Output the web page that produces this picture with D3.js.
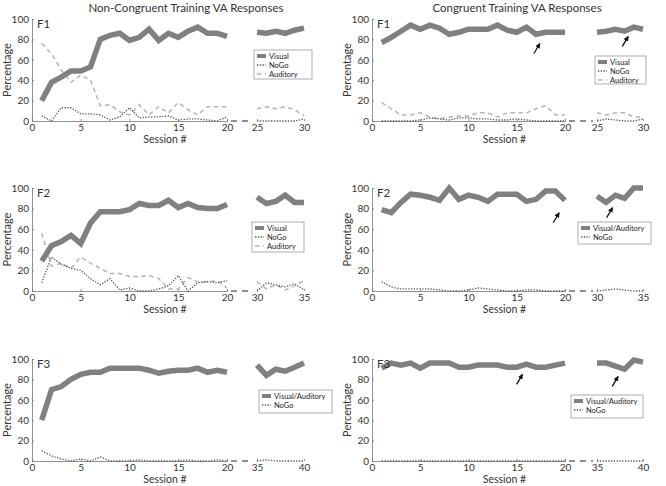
<!DOCTYPE html>
<html><head><meta charset="utf-8">
<script src="https://cdn.jsdelivr.net/npm/d3@7"></script>
<style>
html,body{margin:0;padding:0;background:#fff;}
svg{display:block;font-family:Lato,"Open Sans",sans-serif;}
</style></head>
<body><svg id="c" width="666" height="486"></svg>
<script>
// ---------- DATA ----------
const columnTitles = ["Non-Congruent Training VA Responses", "Congruent Training VA Responses"];
const panelLabels = ["F1", "F2", "F3"];
const yTicks = [0, 20, 40, 60, 80, 100];
const xTicksA = [0, 5, 10, 15, 20];
const sessionsA = [1,2,3,4,5,6,7,8,9,10,11,12,13,14,15,16,17,18,19,20];
const sessionsF1B = [25,26,27,28,29,30];
const sessionsF2B = [30,31,32,33,34,35];
const sessionsF3B = [35,36,37,38,39,40];
const domainF1B = [25, 30];
const domainF2B = [30, 35];
const domainF3B = [35, 40];

// F1 non-congruent
const ncF1Visual  = [20,38,43,49,49,53,80,84,86,79,82,90,79,86,82,88,92,86,86,83];
const ncF1VisualB = [87,86,88,86,89,91];
const ncF1NoGo    = [5,0,13,13,7,7,6,1,4,13,3,4,4,5,1,2,2,1,0,4];
const ncF1NoGoB   = [0,0,0,0,0,2];
const ncF1Aud     = [76,66,50,38,45,40,15,16,9,6,16,6,14,8,18,11,6,14,14,14];
const ncF1AudB    = [12,14,12,14,11,5];
// F1 congruent
const cF1Visual  = [77,82,88,94,90,94,91,85,87,90,90,90,94,89,87,92,85,87,87,87];
const cF1VisualB = [87,88,90,88,92,90];
const cF1NoGo    = [0,0,0,0,1,3,2,1,3,3,2,2,1,1,2,1,0,0,0,0];
const cF1NoGoB   = [0,2,1,0,0,2];
const cF1Aud     = [18,12,6,6,8,4,2,4,5,5,8,8,4,8,8,8,12,15,6,6];
const cF1AudB    = [8,6,8,8,4,4];
// F2 non-congruent
const ncF2Visual  = [29,44,48,54,46,66,77,77,77,79,85,83,83,88,81,85,81,80,80,84];
const ncF2VisualB = [91,85,87,93,86,86];
const ncF2NoGo    = [8,33,26,22,20,12,6,12,1,3,0,0,2,5,15,0,8,9,8,10];
const ncF2NoGoB   = [0,8,6,4,7,1];
const ncF2Aud     = [56,24,27,22,33,27,22,17,17,14,14,15,12,2,2,13,9,9,10,3];
const ncF2AudB    = [9,2,6,1,5,10];
// F2 congruent
const cF2Visual  = [79,76,86,94,93,91,88,100,89,93,91,87,94,94,94,87,89,97,97,88];
const cF2VisualB = [92,86,93,90,100,100];
const cF2NoGo    = [9,4,2,2,2,2,1,0,0,1,3,2,1,0,0,1,1,0,0,0];
const cF2NoGoB   = [0,1,2,1,0,0];
// F3 non-congruent
const ncF3Visual  = [40,70,73,80,85,87,87,91,91,91,91,89,86,88,89,89,91,87,89,87];
const ncF3VisualB = [94,84,90,88,92,96];
const ncF3NoGo    = [10,5,2,0,2,0,4,0,0,0,1,0,0,0,0,1,0,0,1,0];
const ncF3NoGoB   = [0,1,0,0,0,0];
// F3 congruent
const cF3Visual  = [91,96,94,96,91,96,96,96,92,92,94,94,94,92,92,95,92,92,94,96];
const cF3VisualB = [96,96,93,90,99,97];
const cF3NoGo    = [0,0,0,0,0,0,0,0,0,0,0,0,0,0,0,0,0,0,0,0];
const cF3NoGoB   = [0,0,0,0,0,0];

// arrows: [session, value] the arrow points to (congruent panels)
const arrowsF1 = [[17.4, 76], [28.4, 83]];
const arrowsF2 = [[19.4, 76], [31.7, 81]];
const arrowsF3 = [[15.6, 85], [37.3, 83]];

// ---------- STYLE / LAYOUT ----------
const cols = [
  {x0: 32, x20: 227, bx0: 257, bx1: 304, title: 186},
  {x0: 372, x20: 565, bx0: 597, bx1: 643, title: 517}
];
const rows = [
  {y0: 121, y100: 19},
  {y0: 291, y100: 188},
  {y0: 461, y100: 359}
];
const styles = {
  visual:  {stroke: "#808080", width: 5.5, dash: null},
  nogo:    {stroke: "#555",    width: 1.3, dash: "1.3,1.5"},
  aud:     {stroke: "#b5b5b5", width: 1.5, dash: "4.5,3.5"}
};

const panels = [
  {r:0, c:0, lab:panelLabels[0], bSess:sessionsF1B, bDom:domainF1B,
   series:[["visual",ncF1Visual,ncF1VisualB],["nogo",ncF1NoGo,ncF1NoGoB],["aud",ncF1Aud,ncF1AudB]],
   legend:{x:254,y:50,w:58,h:29,items:[["visual","Visual"],["nogo","NoGo"],["aud","Auditory"]]}, arrows:[]},
  {r:0, c:1, lab:panelLabels[0], bSess:sessionsF1B, bDom:domainF1B,
   series:[["visual",cF1Visual,cF1VisualB],["nogo",cF1NoGo,cF1NoGoB],["aud",cF1Aud,cF1AudB]],
   legend:{x:595,y:56,w:51,h:28,items:[["visual","Visual"],["nogo","NoGo"],["aud","Auditory"]]}, arrows:arrowsF1},
  {r:1, c:0, lab:panelLabels[1], bSess:sessionsF2B, bDom:domainF2B,
   series:[["visual",ncF2Visual,ncF2VisualB],["nogo",ncF2NoGo,ncF2NoGoB],["aud",ncF2Aud,ncF2AudB]],
   legend:{x:252,y:222,w:52,h:30,items:[["visual","Visual"],["nogo","NoGo"],["aud","Auditory"]]}, arrows:[]},
  {r:1, c:1, lab:panelLabels[1], bSess:sessionsF2B, bDom:domainF2B,
   series:[["visual",cF2Visual,cF2VisualB],["nogo",cF2NoGo,cF2NoGoB]],
   legend:{x:578,y:222,w:73,h:22,items:[["visual","Visual/Auditory"],["nogo","NoGo"]]}, arrows:arrowsF2},
  {r:2, c:0, lab:panelLabels[2], bSess:sessionsF3B, bDom:domainF3B,
   series:[["visual",ncF3Visual,ncF3VisualB],["nogo",ncF3NoGo,ncF3NoGoB]],
   legend:{x:259,y:390,w:73,h:23,items:[["visual","Visual/Auditory"],["nogo","NoGo"]]}, arrows:[]},
  {r:2, c:1, lab:panelLabels[2], bSess:sessionsF3B, bDom:domainF3B,
   series:[["visual",cF3Visual,cF3VisualB],["nogo",cF3NoGo,cF3NoGoB]],
   legend:{x:571,y:395,w:72,h:23,items:[["visual","Visual/Auditory"],["nogo","NoGo"]]}, arrows:arrowsF3}
];

const svg = d3.select("#c");
const defs = svg.append("defs");
defs.append("marker").attr("id","ah").attr("viewBox","0 0 10 10").attr("refX",9).attr("refY",5)
  .attr("markerWidth",4).attr("markerHeight",4).attr("orient","auto")
  .append("path").attr("d","M0,0L10,5L0,10z").attr("fill","#111");

// column titles
columnTitles.forEach((t,i)=>{
  svg.append("text").attr("x",cols[i].title).attr("y",11.5).attr("text-anchor","middle")
    .attr("font-size",11.5).attr("fill","#333").text(t);
});

panels.forEach(p=>{
  const col = cols[p.c], row = rows[p.r];
  const xA = d3.scaleLinear().domain([0,20]).range([col.x0, col.x20]);
  const xB = d3.scaleLinear().domain(p.bDom).range([col.bx0, col.bx1]);
  const y = d3.scaleLinear().domain([0,100]).range([row.y0, row.y100]);
  const g = svg.append("g");

  const ya = g.append("g").attr("transform",`translate(${col.x0},0)`)
    .call(d3.axisLeft(y).tickValues(yTicks).tickSize(-2).tickPadding(3));
  const xa = g.append("g").attr("transform",`translate(0,${row.y0})`)
    .call(d3.axisBottom(xA).tickValues(xTicksA).tickSize(-2).tickPadding(3).tickFormat(d3.format("d")));
  const xb = g.append("g").attr("transform",`translate(0,${row.y0})`)
    .call(d3.axisBottom(xB).tickValues(p.bDom).tickSize(-2).tickPadding(3).tickFormat(d3.format("d")));
  xb.select(".domain").remove();
  [ya,xa,xb].forEach(a=>{
    a.selectAll(".domain").attr("stroke","#777").attr("stroke-width",0.8);
    a.selectAll(".tick line").attr("stroke","#777").attr("stroke-width",0.8);
    a.selectAll("text").attr("font-family","Lato").attr("font-size",10).attr("fill","#333");
  });
  g.append("line").attr("x1",xA(20)+4).attr("x2",xB(p.bDom[0])-4)
    .attr("y1",row.y0).attr("y2",row.y0)
    .attr("stroke","#222").attr("stroke-width",1).attr("stroke-dasharray","6,5");

  g.append("text").attr("transform",`translate(${col.x0-21},${(row.y0+row.y100)/2}) rotate(-90)`)
    .attr("text-anchor","middle").attr("font-size",11).attr("fill","#333").text("Percentage");
  g.append("text").attr("x",(col.x0+col.bx1)/2-3).attr("y",row.y0+22)
    .attr("text-anchor","middle").attr("font-size",10.5).attr("fill","#333").text("Session #");

  const order = ["aud","nogo","visual"];
  order.forEach(k=>{
    const s = p.series.find(e=>e[0]===k);
    if(!s) return;
    const st = styles[k];
    [[s[1], sessionsA, xA],[s[2], p.bSess, xB]].forEach(([vals, ss, sc])=>{
      g.append("path").datum(vals)
        .attr("d", d3.line().x((d,i)=>sc(ss[i])).y(d=>y(d)))
        .attr("fill","none").attr("stroke",st.stroke).attr("stroke-width",st.width)
        .attr("stroke-dasharray",st.dash).attr("stroke-linejoin","miter");
    });
  });

  g.append("text").attr("x",col.x0+5).attr("y",row.y100+9).attr("font-size",11.5)
    .attr("fill","#333").text(p.lab);

  p.arrows.forEach(([sx,v])=>{
    const sc = sx<=20 ? xA : xB;
    const tx = sc(sx), ty = y(v);
    g.append("line").attr("x1",tx-6).attr("y1",ty+10).attr("x2",tx).attr("y2",ty)
      .attr("stroke","#111").attr("stroke-width",1.3).attr("marker-end","url(#ah)");
  });

  const L = p.legend;
  const lg = g.append("g");
  lg.append("rect").attr("x",L.x).attr("y",L.y).attr("width",L.w).attr("height",L.h)
    .attr("fill","#fff").attr("stroke","#999").attr("stroke-width",0.8);
  const step = 9;
  L.items.forEach((it,i)=>{
    const st = styles[it[0]];
    const yy = L.y + 6 + i*step;
    lg.append("line").attr("x1",L.x+3).attr("x2",L.x+12).attr("y1",yy).attr("y2",yy)
      .attr("stroke",st.stroke).attr("stroke-width",it[0]==="visual"?4:st.width)
      .attr("stroke-dasharray",st.dash);
    lg.append("text").attr("x",L.x+15).attr("y",yy+2.7).attr("font-size",7.5)
      .attr("fill","#222").text(it[1]);
  });
});
</script></body></html>
